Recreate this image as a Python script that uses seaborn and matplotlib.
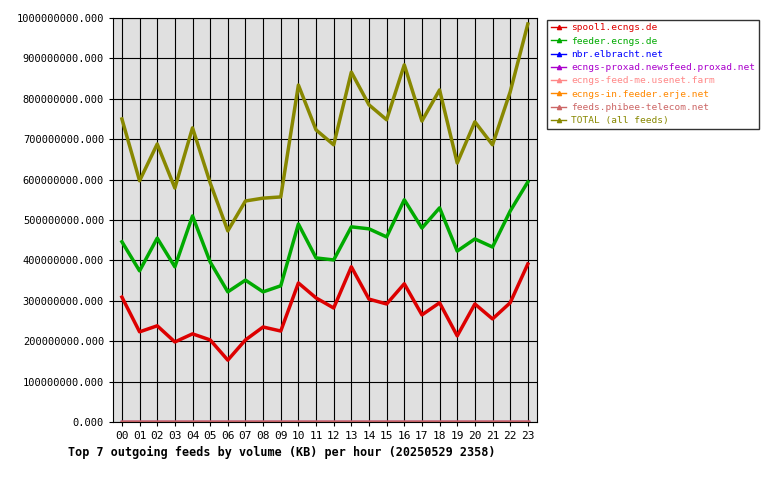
import matplotlib
matplotlib.use("Agg")
import matplotlib.pyplot as plt
import seaborn as sns
import pandas as pd

hours = [f"{h:02d}" for h in range(24)]
spool1 = [309,223,238,198,218,203,153,203,235,225,344,307,282,384,304,292,342,265,295,213,292,255,295,391]
feeder = [446,374,455,384,510,396,322,351,322,337,490,406,401,483,478,458,550,480,530,423,453,433,522,594]
total = [750,597,688,579,728,592,473,547,554,557,834,723,686,866,785,748,884,745,822,641,743,686,817,985]
zeros = [0]*24
names = ["spool1.ecngs.de","feeder.ecngs.de","nbr.elbracht.net","ecngs-proxad.newsfeed.proxad.net",
         "ecngs-feed-me.usenet.farm","ecngs-in.feeder.erje.net","feeds.phibee-telecom.net","TOTAL (all feeds)"]
colors = ["#dd0000","#00aa00","#0000ff","#aa00cc","#ff8888","#ff8800","#cc6666","#888800"]
series = [spool1, feeder, zeros, zeros, zeros, zeros, zeros, total]

plt.rcParams["font.family"] = "DejaVu Sans Mono"
fig = plt.figure(figsize=(7.8, 4.8), dpi=100)
ax = fig.add_axes([0.145, 0.121, 0.543, 0.8415])
ax.set_facecolor("#e0e0e0")
handles = []
for n, s, c in zip(names, series, colors):
    df = pd.DataFrame({"x": range(24), "y": [v*1e6 for v in s]})
    sns.lineplot(data=df, x="x", y="y", ax=ax, color=c, linewidth=2.5, label=n, legend=False)
    handles.append(plt.Line2D([], [], color=c, linewidth=1, marker="^", markersize=3))
ax.set_xlim(-0.5, 23.5)
ax.set_ylim(0, 1e9)
ax.set_xticks(range(24))
ax.set_xticklabels(hours, fontsize=8)
ax.set_yticks([i*1e8 for i in range(11)])
ax.set_yticklabels([f"{i*100000000}.000" for i in range(11)], fontsize=7.5)
ax.grid(True, color="black", linewidth=0.8)
ax.set_axisbelow(True)
ax.set_xlabel(""); ax.set_ylabel("")
ax.tick_params(length=3)
leg = fig.legend(handles, names, loc="upper left", bbox_to_anchor=(0.698, 0.965), fontsize=6.8,
                 frameon=True, fancybox=False, edgecolor="black", handlelength=1.6,
                 handletextpad=0.5, borderaxespad=0.3, labelspacing=0.45)
for t, c in zip(leg.get_texts(), colors):
    t.set_color(c)
fig.text(0.087, 0.05, "Top 7 outgoing feeds by volume (KB) per hour (20250529 2358)",
         fontsize=8.5, fontweight="bold")
fig.savefig("out.png", dpi=100, facecolor="white")
